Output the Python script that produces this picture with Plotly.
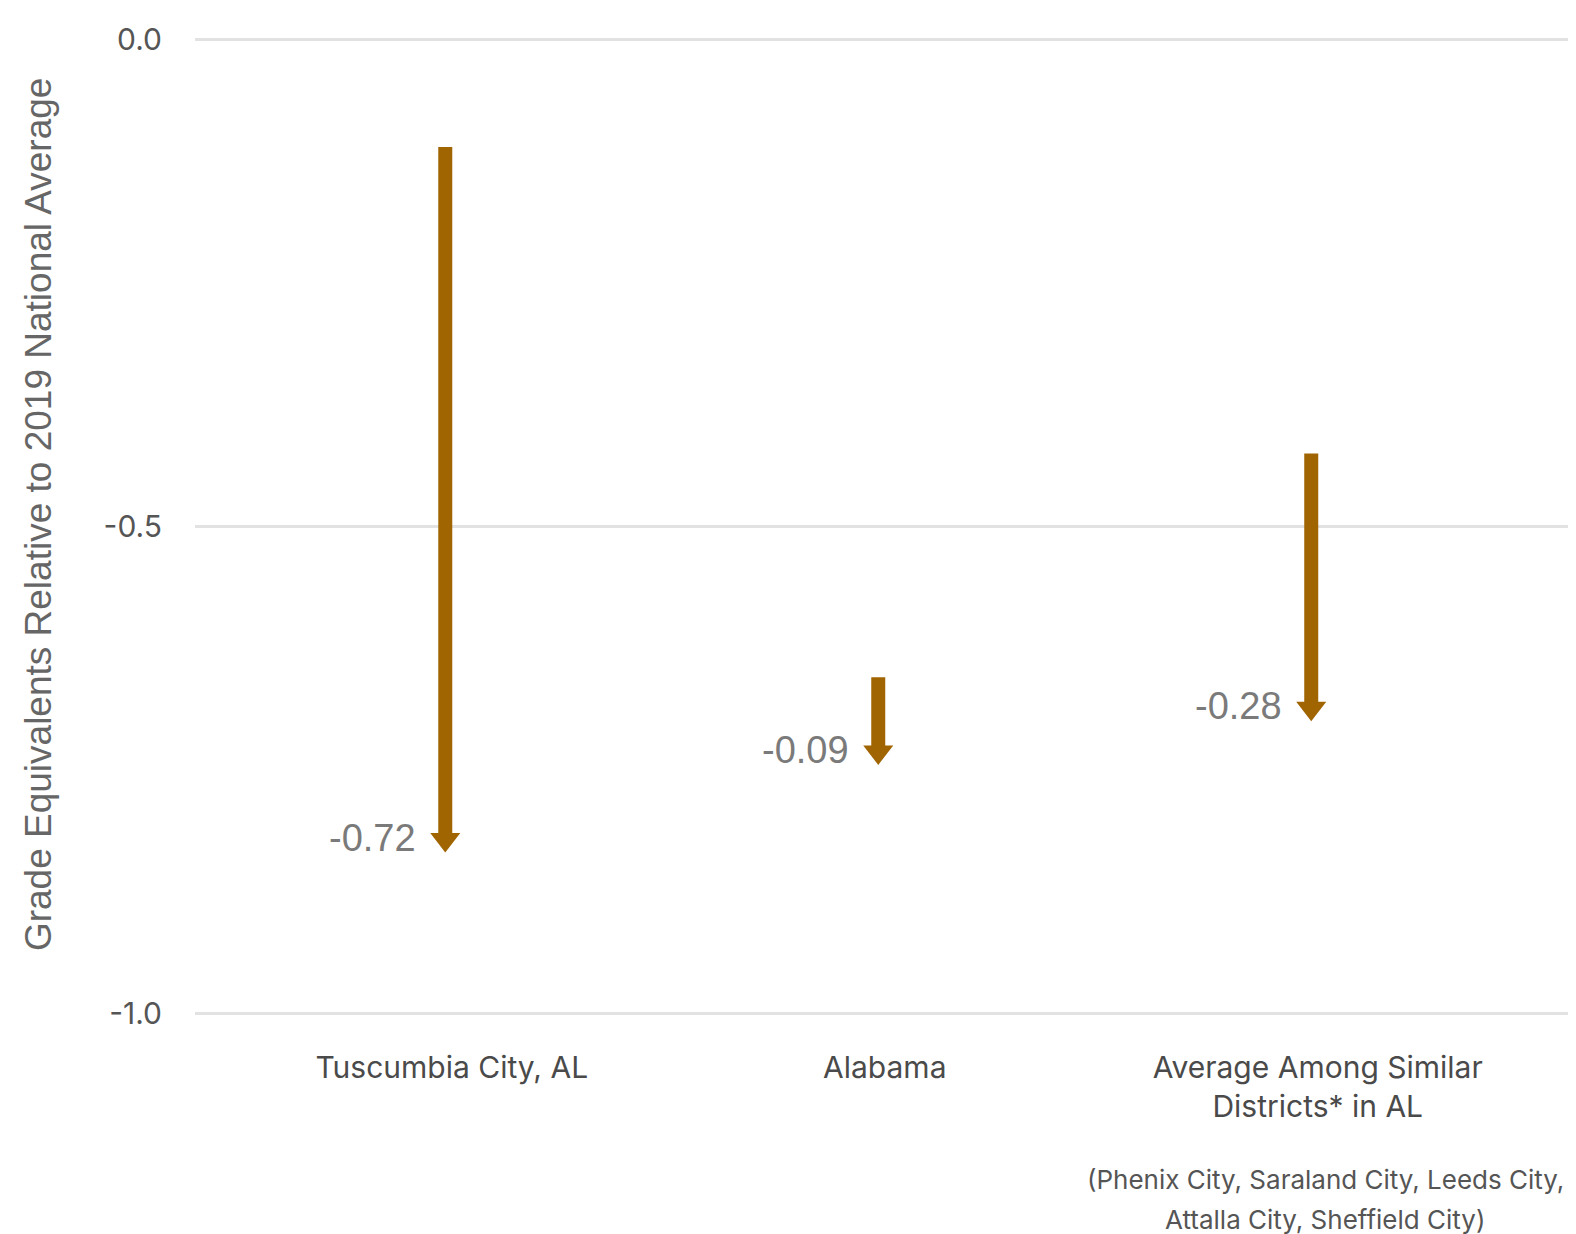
import plotly.graph_objects as go

categories = ["Tuscumbia City, AL", "Alabama", "Average Among Similar<br>Districts* in AL"]
start_values = [-0.11, -0.655, -0.425]
end_values = [-0.835, -0.745, -0.70]
change_labels = ["-0.72", "-0.09", "-0.28"]
y_ticks = [0.0, -0.5, -1.0]
y_tick_labels = ["0.0", "-0.5", "-1.0"]
y_title = "Grade Equivalents Relative to 2019 National Average"
note_lines = ["(Phenix City, Saraland City, Leeds City,", "Attalla City, Sheffield City)"]

ARROW = "#A06400"
# page body has ~8px default margin, so the figure is sized to fit in the window
W, H = 1568, 1226
PAD = 0.004
M = dict(l=187, r=8, t=28, b=217)
plot_h = H - M["t"] - M["b"]
px_per_unit = plot_h / (1.0 + 2 * PAD)

head_size = 26
tip_offset = (head_size / 2) / px_per_unit  # triangle tip is r below marker centre

fig = go.Figure()
xs = list(range(len(categories)))
for i, (s, e) in enumerate(zip(start_values, end_values)):
    head_y = e + tip_offset
    fig.add_trace(go.Scatter(
        x=[xs[i], xs[i]], y=[s, head_y], mode="lines",
        line=dict(color=ARROW, width=14), hoverinfo="skip", showlegend=False))
    fig.add_trace(go.Scatter(
        x=[xs[i]], y=[head_y], mode="markers",
        marker=dict(symbol="triangle-down", size=head_size, color=ARROW, line=dict(width=0)),
        hoverinfo="skip", showlegend=False))
    fig.add_annotation(
        x=xs[i], y=e, xref="x", yref="y", text=change_labels[i], showarrow=False,
        xanchor="right", yanchor="middle", xshift=-27, yshift=15,
        font=dict(family="Liberation Sans, Arial", size=38, color="#7a7a7a"))

for j, line in enumerate(note_lines):
    fig.add_annotation(
        x=2, y=-0.166 - j * 0.0403, xref="x", yref="paper", text=line, showarrow=False,
        xanchor="center", yanchor="middle", xshift=14,
        font=dict(family="Inter", size=26, color="#555555"))

fig.add_annotation(
    x=-0.1143, y=0.5127, xref="paper", yref="paper", text=y_title, showarrow=False,
    textangle=-90, xanchor="center", yanchor="middle",
    font=dict(family="Liberation Sans, Arial", size=37, color="#666666"))

fig.update_layout(
    width=W, height=H, margin=M,
    plot_bgcolor="white", paper_bgcolor="white",
    font=dict(family="Inter", color="#555555"),
    xaxis=dict(
        range=[-0.578, 2.593], tickmode="array", tickvals=[x + 0.015 for x in xs], ticktext=categories,
        showgrid=False, zeroline=False, showline=False, ticks="", automargin=False,
        tickfont=dict(size=30, color="#4a4a4a"), ticklabelstandoff=30),
    yaxis=dict(
        range=[-1.0 - PAD, 0.0 + PAD], tickmode="array", tickvals=y_ticks, ticktext=y_tick_labels,
        showgrid=True, gridcolor="#e2e2e2", gridwidth=2.5, zeroline=False, showline=False,
        ticks="", tickfont=dict(size=30, color="#555555"), ticklabelstandoff=32, automargin=False),
)

fig.write_html("out.html")
